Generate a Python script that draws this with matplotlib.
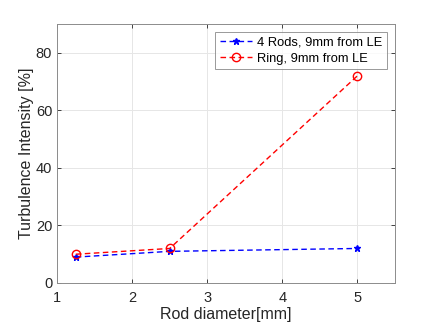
import matplotlib
matplotlib.use("Agg")
import matplotlib.pyplot as plt

# Datos
rod_diameter = [1.25, 2.5, 5.0]
rods_ti = [9, 11, 12]
ring_ti = [10, 12, 72]
rods_label = "4 Rods, 9mm from LE"
ring_label = "Ring, 9mm from LE"

plt.rcParams['font.family'] = ['Liberation Sans', 'DejaVu Sans']

fig = plt.figure(figsize=(4.37, 3.28), dpi=100)
ax = fig.add_axes([57/437, 1 - 283/328, (395-57)/437, (283-24)/328])

ax.plot(rod_diameter, rods_ti, 'b--', marker='*', markersize=5, lw=1.0,
        label=rods_label, dashes=(4, 2.5))
ax.plot(rod_diameter, ring_ti, 'r--', marker='o', markersize=6, lw=1.0,
        markerfacecolor='none', label=ring_label, dashes=(4, 2.5))

ax.set_xlim(1, 5.5)
ax.set_ylim(0, 90)
ax.set_xticks([1, 2, 3, 4, 5])
ax.set_yticks([0, 20, 40, 60, 80])
ax.grid(True, color='#e6e6e6', lw=0.7)
ax.set_axisbelow(True)
for s in ax.spines.values():
    s.set_color('#8c8c8c')
    s.set_linewidth(0.7)
ax.tick_params(labelsize=10.5, colors='#262626', length=3, width=0.6,
               direction='in', top=True, right=True)
ax.tick_params(axis='x', pad=6)
ax.set_xlabel("Rod diameter[mm]", fontsize=11.5, color='#262626', labelpad=1)
ax.set_ylabel("Turbulence Intensity [%]", fontsize=11.5, color='#262626', labelpad=1)

leg = ax.legend(loc='upper right', fontsize=9.3, frameon=True, fancybox=False,
                borderpad=0.35, handlelength=2.5, handletextpad=0.4,
                labelspacing=0.35, borderaxespad=0.6)
leg.get_frame().set_edgecolor('#808080')
leg.get_frame().set_linewidth(0.7)

fig.savefig("out.png", dpi=100)
